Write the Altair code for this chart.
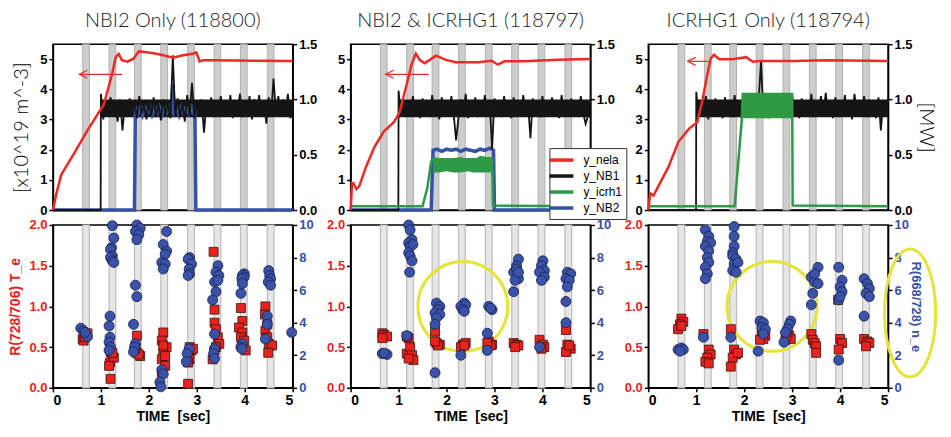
import altair as alt
import pandas as pd

# ---------------- data ----------------
SERIES = ["y_nela", "y_NB1", "y_icrh1", "y_NB2"]
SERIES_COLORS = ["#ee2a24", "#151515", "#2f9a45", "#3552a6"]
TITLES = ["NBI2 Only (118800)", "NBI2 & ICRHG1 (118797)", "ICRHG1 Only (118794)"]
TIME_TICKS = [0, 1, 2, 3, 4, 5]
DENS_TICKS = [0, 1, 2, 3, 4, 5]
MW_TICKS = [0.0, 0.5, 1.0, 1.5]
TE_TICKS = [0.0, 0.5, 1.0, 1.5, 2.0]
NE_TICKS = [0, 2, 4, 6, 8, 10]
BAND_CENTERS = [0.69, 1.24, 1.77, 2.32, 2.88, 3.43, 3.98, 4.54]
BAND_HALF = 0.07

# line-averaged density (time [s], 10^19 m^-3)
P1_NELA = [(0, 0), (0.07, 0.53), (0.17, 1.16), (0.45, 1.9), (0.72, 2.64), (0.93, 3.17), (1.06, 3.49),
           (1.24, 4.55), (1.31, 5.07), (1.37, 5.18), (1.44, 4.97), (1.55, 4.92), (1.68, 5.02), (1.79, 5.26),
           (1.96, 5.23), (2.16, 5.18), (2.51, 5.05), (2.71, 5.13), (2.92, 5.18), (2.99, 5.23), (3.06, 4.92),
           (3.13, 4.97), (3.33, 4.97), (5.0, 4.94)]
P2_NELA = [(0, 0), (0.03, 0.9), (0.06, 0.88), (0.12, 0.69), (0.18, 0.79), (0.32, 1.43), (0.49, 2.07),
           (0.69, 2.6), (0.9, 2.91), (1.02, 3.23), (1.17, 4.18), (1.27, 4.82), (1.36, 5.19), (1.44, 4.98),
           (1.54, 4.87), (1.65, 4.98), (1.78, 5.12), (1.99, 4.98), (2.19, 4.9), (2.67, 4.9), (2.94, 4.95),
           (3.07, 4.82), (3.21, 4.93), (3.62, 4.93), (4.3, 4.98), (5.0, 5.01)]
P3_NELA = [(0, 0), (0.04, 0.55), (0.11, 0.48), (0.21, 0.79), (0.42, 1.43), (0.63, 2.27), (0.85, 2.7),
           (1.02, 2.91), (1.13, 3.65), (1.23, 4.49), (1.30, 5.02), (1.37, 5.15), (1.48, 5.0), (1.76, 5.0),
           (2.04, 5.07), (2.18, 4.92), (2.32, 4.94), (3.03, 4.94), (3.73, 4.97), (5.0, 4.94)]

# NB1 power [MW], sampled every 0.05 s from 1.00 s to 5.00 s (zero before)
NB1_GRID = [round(1.0 + 0.05 * i, 2) for i in range(81)]
P1_NB1 = [1.05, 0.82, 0.98, 0.85, 1.02, 0.88, 0.96, 0.80, 1.00, 0.72,
          0.95, 0.84, 1.01, 0.86, 0.97, 0.83, 1.03, 0.87, 0.95, 0.82,
          0.99, 0.85, 1.02, 0.84, 0.96, 0.81, 1.00, 0.86, 0.97, 0.83,
          1.40, 0.85, 1.01, 0.84, 0.97, 0.80, 1.04, 0.86, 1.15, 0.83,
          0.98, 0.85, 1.00, 0.70, 0.96, 0.86, 1.02, 0.84, 0.99, 0.88,
          1.03, 0.85, 0.97, 0.87, 1.04, 0.83, 0.99, 0.88, 1.05, 0.84,
          0.98, 0.86, 1.03, 0.82, 1.00, 0.87, 1.04, 0.85, 0.99, 0.78,
          1.02, 0.86, 1.19, 0.88, 1.03, 0.85, 1.00, 0.87, 1.05, 0.83,
          0.98]
P2_NB1 = [1.08, 0.86, 1.00, 0.84, 0.97, 0.88, 1.03, 0.85, 0.99, 0.83,
          1.01, 0.87, 0.96, 0.84, 1.04, 0.86, 0.98, 0.82, 1.02, 0.88,
          0.97, 0.85, 1.03, 0.86, 0.63, 0.84, 1.00, 0.87, 1.05, 0.83,
          0.98, 0.86, 1.02, 0.84, 0.97, 0.88, 1.04, 0.85, 0.99, 0.55,
          1.01, 0.86, 0.97, 0.84, 1.03, 0.87, 0.99, 0.83, 1.02, 0.86,
          0.98, 0.85, 1.04, 0.87, 0.96, 0.65, 1.01, 0.86, 0.98, 0.84,
          1.03, 0.88, 0.97, 0.85, 1.02, 0.86, 0.99, 0.83, 1.04, 0.87,
          0.98, 0.85, 1.01, 0.86, 0.97, 0.84, 1.03, 0.88, 0.78, 0.85,
          1.00]
P3_NB1 = [1.07, 0.84, 0.99, 0.86, 1.03, 0.82, 0.97, 0.88, 1.01, 0.85,
          0.96, 0.83, 1.02, 0.87, 0.98, 0.84, 1.04, 0.86, 0.97, 0.82,
          1.01, 0.85, 0.99, 0.87, 1.03, 0.84, 0.98, 1.34, 0.86, 1.02,
          0.83, 0.97, 0.88, 1.03, 0.85, 0.99, 0.86, 1.02, 0.84, 0.98,
          1.04, 0.86, 0.97, 0.83, 1.01, 0.87, 0.99, 0.85, 1.05, 0.84,
          0.98, 0.88, 1.03, 0.85, 1.06, 0.86, 0.99, 0.83, 1.02, 0.87,
          0.97, 0.85, 1.04, 0.86, 0.99, 0.82, 1.05, 0.87, 0.98, 0.85,
          1.03, 0.84, 1.00, 0.86, 0.97, 0.83, 1.02, 0.72, 0.99, 0.85,
          1.01]
NB1_START = [(0, 0), (0.995, 0)]
# dense core of the NB1 trace (time, low, high) [MW]
NB1_CORE = [(1.0, 0.84, 1.0), (5.0, 0.84, 1.0)]

# NB2 power [MW]
P1_NB2 = [(0, 0), (1.70, 0), (1.72, 0.92), (1.77, 0.87), (1.82, 0.93), (1.87, 0.86), (1.92, 0.92),
          (1.97, 0.88), (2.02, 0.93), (2.07, 0.86), (2.12, 0.91), (2.17, 0.87), (2.22, 0.93), (2.27, 0.86),
          (2.32, 0.92), (2.37, 0.88), (2.42, 0.93), (2.47, 0.87), (2.50, 1.14), (2.53, 0.88), (2.58, 0.92),
          (2.63, 0.86), (2.68, 0.93), (2.73, 0.87), (2.78, 0.91), (2.83, 0.88), (2.88, 0.96), (2.93, 0.86),
          (2.96, 0.92), (2.98, 0), (5.0, 0)]
P1_NB2_CORE = [(1.72, 0.89, 0.94), (2.96, 0.89, 0.94)]
P2_NB2 = [(0, 0), (1.68, 0), (1.72, 0.54), (1.80, 0.55), (1.90, 0.53), (2.00, 0.55), (2.10, 0.54),
          (2.20, 0.55), (2.30, 0.53), (2.40, 0.55), (2.50, 0.54), (2.60, 0.53), (2.70, 0.55), (2.80, 0.54),
          (2.90, 0.56), (2.98, 0.54), (3.00, 0), (5.0, 0)]

# ICRH power [MW]
P2_ICRH = [(0, 0.035), (1.50, 0.035), (1.60, 0.2), (1.68, 0.44), (1.72, 0.46), (2.95, 0.46),
           (2.97, 0.04), (5.0, 0.035)]
P2_ICRH_BAND = [(1.72, 0.34, 0.48), (1.85, 0.34, 0.47), (2.0, 0.35, 0.45), (2.15, 0.34, 0.47),
                (2.3, 0.34, 0.48), (2.45, 0.35, 0.46), (2.55, 0.34, 0.45), (2.7, 0.34, 0.49),
                (2.85, 0.34, 0.48), (2.95, 0.34, 0.48)]
P3_ICRH = [(0, 0.035), (1.80, 0.035), (1.87, 0.4), (1.95, 0.82), (1.97, 1.05), (3.0, 1.05),
           (3.01, 0.04), (5.0, 0.035)]
P3_ICRH_BAND = [(1.97, 0.83, 1.05), (3.0, 0.83, 1.05)]

# arrows (tip time, tail time, density level)
ARROWS = [(0.55, 1.44, 4.5), (0.73, 1.63, 4.5), (0.82, 1.26, 4.93)]

# line-ratio data: R(728/706) ~ T_e (red squares), R(668/728) ~ n_e (blue circles)
P1_TE = [(0.62, 0.60), (0.69, 0.64), (0.72, 0.67), (0.64, 0.58), (0.67, 0.62),
         (1.20, 0.44), (1.24, 0.39), (1.19, 0.31), (1.27, 0.37), (1.17, 0.27), (1.20, 0.11), (1.24, 0.43),
         (1.75, 0.64), (1.72, 0.50), (1.75, 0.43), (1.82, 0.39), (1.79, 0.41), (1.72, 0.48),
         (2.30, 0.68), (2.27, 0.58), (2.37, 0.50), (2.30, 0.43), (2.27, 0.35), (2.34, 0.27), (2.27, 0.19),
         (2.30, 0.52), (2.34, 0.39),
         (2.85, 0.50), (2.89, 0.46), (2.82, 0.41), (2.85, 0.35), (2.82, 0.31), (2.92, 0.48), (2.82, 0.05),
         (3.35, 1.67), (3.37, 0.96), (3.37, 0.80), (3.40, 0.72), (3.44, 0.62), (3.47, 0.54), (3.40, 0.50),
         (3.33, 0.35), (3.37, 0.46),
         (3.92, 0.98), (3.95, 0.82), (3.88, 0.74), (3.95, 0.68), (3.92, 0.62), (3.99, 0.58), (3.94, 0.50),
         (4.02, 0.46),
         (4.43, 1.0), (4.42, 0.90), (4.47, 0.78), (4.43, 0.70), (4.47, 0.62), (4.50, 0.54), (4.57, 0.52),
         (4.49, 0.43)]
P1_NE = [(0.58, 3.66), (0.64, 3.5), (0.72, 3.15), (0.67, 3.4),
         (1.24, 9.96), (1.27, 9.2), (1.22, 8.6), (1.20, 8.5), (1.24, 8.1), (1.20, 8.0), (1.24, 7.8),
         (1.27, 7.7), (1.19, 4.4), (1.17, 3.8), (1.19, 3.1), (1.17, 2.8), (1.20, 2.5), (1.17, 2.3),
         (1.75, 10.0), (1.79, 9.7), (1.82, 9.8), (1.72, 9.6), (1.79, 9.4), (1.75, 9.1), (1.72, 6.3),
         (1.75, 5.6), (1.68, 3.9), (1.72, 2.7), (1.70, 2.5), (1.68, 2.2),
         (2.37, 9.6), (2.30, 8.8), (2.37, 8.4), (2.34, 8.2), (2.27, 7.7), (2.34, 7.6), (2.30, 7.3),
         (2.27, 1.1), (2.30, 0.85), (2.23, 0.35), (2.25, 0.06),
         (2.85, 8.0), (2.82, 7.9), (2.89, 7.6), (2.84, 7.3), (2.85, 7.0), (2.82, 6.9), (2.84, 2.4),
         (2.80, 2.1), (2.78, 1.6),
         (3.44, 7.5), (3.40, 7.1), (3.46, 6.9), (3.37, 6.5), (3.40, 5.9), (3.44, 6.6), (3.33, 5.4),
         (3.37, 3.3), (3.37, 2.4), (3.35, 2.1), (3.37, 1.8),
         (3.99, 7.0), (3.95, 6.9), (3.99, 6.8), (3.94, 6.7), (3.95, 6.4), (3.92, 5.8), (3.95, 2.7),
         (3.92, 2.5), (3.94, 2.4),
         (4.50, 7.2), (4.52, 6.9), (4.54, 6.7), (4.49, 6.5), (4.54, 6.3), (4.47, 4.4), (4.47, 3.9),
         (4.43, 3.0),
         (4.98, 3.4)]
P2_TE = [(0.66, 0.67), (0.70, 0.65), (0.76, 0.63), (0.66, 0.61),
         (1.21, 0.61), (1.17, 0.42), (1.24, 0.50), (1.28, 0.40), (1.31, 0.34), (1.21, 0.36), (1.17, 0.63),
         (1.76, 0.69), (1.79, 0.55), (1.86, 0.53), (1.82, 0.52), (1.76, 0.57),
         (2.34, 0.53), (2.40, 0.55), (2.30, 0.50), (2.37, 0.52),
         (2.88, 0.57), (2.95, 0.53), (2.92, 0.52), (2.85, 0.55),
         (3.40, 0.55), (3.46, 0.53), (3.50, 0.52), (3.43, 0.50),
         (3.94, 0.59), (4.01, 0.53), (4.04, 0.50), (3.98, 0.48),
         (4.49, 0.71), (4.52, 0.53), (4.59, 0.48), (4.49, 0.44), (4.56, 0.52)]
P2_NE = [(0.66, 2.1), (0.76, 2.05), (0.70, 2.13),
         (1.21, 10.0), (1.24, 9.7), (1.28, 9.1), (1.21, 8.9), (1.24, 8.7), (1.30, 8.8), (1.21, 8.3),
         (1.24, 8.1), (1.28, 7.8), (1.23, 7.1), (1.17, 3.2),
         (1.79, 5.2), (1.86, 5.0), (1.82, 4.8), (1.76, 4.6), (1.86, 4.5), (1.79, 4.3), (1.76, 3.9),
         (1.76, 0.93),
         (2.37, 5.2), (2.30, 5.0), (2.40, 5.1), (2.34, 4.8), (2.37, 4.7), (2.30, 2.0),
         (2.88, 5.0), (2.95, 4.8), (2.92, 4.9), (2.85, 3.35), (2.85, 2.3),
         (3.50, 7.9), (3.40, 7.1), (3.46, 7.5), (3.50, 6.7), (3.43, 6.6), (3.40, 5.9), (3.46, 7.3),
         (3.50, 7.1),
         (4.01, 7.8), (3.98, 7.5), (4.04, 7.2), (3.94, 7.1), (4.04, 6.8), (3.98, 6.6), (3.94, 2.5),
         (4.52, 7.1), (4.59, 7.0), (4.49, 6.7), (4.56, 6.6), (4.52, 6.2), (4.49, 5.3), (4.49, 4.0)]
P3_TE = [(0.69, 0.85), (0.73, 0.81), (0.66, 0.78), (0.62, 0.72), (0.69, 0.76),
         (1.15, 0.66), (1.26, 0.47), (1.30, 0.41), (1.23, 0.37), (1.19, 0.32), (1.26, 0.30),
         (1.72, 0.72), (1.79, 0.47), (1.83, 0.41), (1.76, 0.37), (1.72, 0.26), (1.87, 0.43),
         (2.37, 0.66), (2.44, 0.64), (2.40, 0.60), (2.33, 0.59),
         (2.94, 0.64), (2.97, 0.60), (2.90, 0.68), (2.86, 0.59),
         (3.40, 0.66), (3.43, 0.59), (3.47, 0.55), (3.50, 0.51), (3.50, 0.43),
         (4.00, 0.60), (4.04, 0.55), (3.97, 0.47), (3.96, 1.08),
         (4.50, 0.60), (4.57, 0.57), (4.61, 0.55), (4.54, 0.51)]
P3_NE = [(0.62, 2.35), (0.69, 2.45), (0.73, 2.35), (0.66, 2.25),
         (1.19, 9.7), (1.26, 9.3), (1.23, 9.0), (1.30, 8.9), (1.19, 8.7), (1.26, 8.4), (1.23, 8.0),
         (1.26, 7.7), (1.19, 7.4), (1.23, 7.0), (1.19, 6.7), (1.15, 3.1),
         (1.79, 9.9), (1.79, 9.3), (1.79, 8.7), (1.76, 8.3), (1.76, 8.1), (1.83, 7.9), (1.79, 7.6),
         (1.87, 7.7), (1.76, 7.2), (1.83, 7.1), (1.72, 3.1),
         (2.33, 4.1), (2.40, 4.0), (2.37, 3.7), (2.44, 3.6), (2.40, 3.3), (2.29, 2.25),
         (2.97, 4.1), (2.94, 3.9), (2.90, 3.6), (2.86, 3.4), (2.83, 2.8),
         (3.54, 7.4), (3.40, 6.8), (3.47, 6.5), (3.54, 6.4), (3.43, 5.8), (3.40, 5.1), (3.47, 7.0),
         (3.97, 7.4), (4.04, 6.6), (4.00, 6.2), (4.04, 5.9), (3.97, 5.4), (4.00, 5.6), (3.97, 1.7),
         (4.50, 6.7), (4.57, 6.4), (4.61, 6.1), (4.54, 5.8), (4.61, 5.6), (4.50, 4.4)]

# yellow highlight marks (time, ratio)
P2_HILITE = [(2.34, 1.0)]
P3_HILITE = [(2.58, 1.0)]
P3_LABEL_HILITE = [(5.46, 0.92)]

# ---------------- styling ----------------
COLOR = dict(zip(SERIES, SERIES_COLORS))
RED_PT = "#e8231d"
BLUE_PT = "#3a52a8"
YELLOW = "#e6e33a"
LABEL_FONT = "Liberation Sans"
THIN_FONT = "Lato"
ELLIPSE = ("M0,-1 C0.2209,-1 0.40,-0.5523 0.40,0 C0.40,0.5523 0.2209,1 0,1 "
           "C-0.2209,1 -0.40,0.5523 -0.40,0 C-0.40,-0.5523 -0.2209,-1 0,-1 Z")
ARROWHEAD = "M2,-1 L0,0 L2,1"
LEGEND_SYMBOL = "M-2,0 L2,0"
W = 240
H_TOP = 166
H_BOT = 163

XS = alt.Scale(domain=[0, 5], nice=False, zero=False)
DENS = alt.Scale(domain=[0, 5.5], nice=False, zero=False)
MW = alt.Scale(domain=[0, 1.5], nice=False, zero=False)
TE = alt.Scale(domain=[0, 2], nice=False, zero=False)
NE = alt.Scale(domain=[0, 10], nice=False, zero=False)
CSCALE = alt.Scale(domain=SERIES, range=SERIES_COLORS)

LEGEND = alt.Legend(title=None, orient="none", legendX=497, legendY=104,
                    symbolType=LEGEND_SYMBOL, symbolSize=144, symbolStrokeWidth=3.5,
                    labelFont=LABEL_FONT, labelFontSize=12, labelColor="black",
                    strokeColor="#333333", fillColor="white", padding=4, rowPadding=1,
                    labelOffset=14)

BANDS_DF = pd.DataFrame({"t0": [c - BAND_HALF for c in BAND_CENTERS],
                         "t1": [c + BAND_HALF for c in BAND_CENTERS]})


def xtop(field):
    return alt.X(field, type="quantitative", scale=XS,
                 axis=alt.Axis(values=TIME_TICKS, labels=False, ticks=False, title=None))


def xbot(field):
    return alt.X(field, type="quantitative", scale=XS,
                 axis=alt.Axis(values=TIME_TICKS, format="d", title="TIME\u00a0\u00a0[sec]",
                               labelFontSize=14, titleFont=LABEL_FONT, titleFontSize=14,
                               titleFontWeight="bold", titlePadding=2, labelPadding=2))


def pairs(p, cols=("t", "v")):
    return pd.DataFrame(p, columns=list(cols))


def series_line(df, name, width, yscale, axis, legend):
    enc = dict(x=xtop("t:Q"), y=alt.Y("v:Q", scale=yscale, axis=axis))
    if legend:
        df = df.assign(s=name)
        enc["color"] = alt.Color("s:N", scale=CSCALE, legend=LEGEND)
        mark = alt.Chart(df).mark_line(strokeWidth=width)
    else:
        mark = alt.Chart(df).mark_line(strokeWidth=width, color=COLOR[name])
    return mark.encode(**enc)


def band(df, name):
    return alt.Chart(df).mark_area(color=COLOR[name], opacity=1).encode(
        x=xtop("t:Q"), y=alt.Y("lo:Q", scale=MW, axis=None), y2="hi:Q")


def top_panel(k, nela, nb1, nb2, nb2_core, icrh, icrh_band, legend):
    layers = []
    layers.append(alt.Chart(BANDS_DF).mark_rect(fill="#cdcdcd", stroke="#b0b0b0", strokeWidth=1).encode(
        x=xtop("t0:Q"), x2="t1:Q",
        y=alt.Y(datum=0, scale=DENS, axis=None), y2=alt.datum(5.5)))
    right_axis = alt.Axis(orient="right", values=MW_TICKS, format=".1f", title="[MW]" if k == 2 else None,
                          titleFont=THIN_FONT, titleFontWeight=300, titleFontSize=20, titlePadding=3,
                          titleColor="black")
    layers.append(band(pairs(NB1_CORE, ("t", "lo", "hi")), "y_NB1"))
    if nb2 is not None:
        layers.append(series_line(pairs(nb2), "y_NB2", 3.5, MW, None, legend))
        if nb2_core is not None:
            layers.append(band(pairs(nb2_core, ("t", "lo", "hi")), "y_NB2"))
    nb1_df = pd.concat([pairs(NB1_START), pd.DataFrame({"t": NB1_GRID, "v": nb1})], ignore_index=True)
    layers.append(series_line(nb1_df, "y_NB1", 1.8, MW, right_axis, legend))
    if icrh is not None:
        layers.append(series_line(pairs(icrh), "y_icrh1", 2.5, MW, None, legend))
        layers.append(band(pairs(icrh_band, ("t", "lo", "hi")), "y_icrh1"))
    left_axis = alt.Axis(orient="left", values=DENS_TICKS, format="d",
                         title="[x10^19 m^-3]" if k == 0 else None,
                         titleFont=THIN_FONT, titleFontWeight=300, titleFontSize=20, titlePadding=8,
                         titleColor="black")
    layers.append(series_line(pairs(nela), "y_nela", 2.5, DENS, left_axis, legend))
    tip, tail, lvl = ARROWS[k]
    arrow_df = pd.DataFrame({"t": [tip, tail], "v": [lvl, lvl]})
    layers.append(alt.Chart(arrow_df).mark_line(color=COLOR["y_nela"], strokeWidth=1.2).encode(
        x=xtop("t:Q"), y=alt.Y("v:Q", scale=DENS, axis=None)))
    layers.append(alt.Chart(arrow_df.iloc[[0]]).mark_point(
        shape=ARROWHEAD, size=64, filled=False, color=COLOR["y_nela"], strokeWidth=1.2, opacity=1).encode(
        x=xtop("t:Q"), y=alt.Y("v:Q", scale=DENS, axis=None)))
    return alt.layer(*layers).resolve_scale(y="independent").properties(
        width=W, height=H_TOP,
        title=alt.TitleParams(TITLES[k], font=THIN_FONT, fontWeight=300, fontSize=20, offset=7,
                              color="#222222"))


def bottom_panel(k, te, ne, hilite, label_hilite):
    layers = []
    layers.append(alt.Chart(BANDS_DF).mark_rect(fill="#e6e6e6", stroke="#bcbcbc", strokeWidth=1.2).encode(
        x=xbot("t0:Q"), x2="t1:Q",
        y=alt.Y(datum=0, scale=TE, axis=None), y2=alt.datum(2)))
    if hilite is not None:
        layers.append(alt.Chart(pairs(hilite)).mark_point(
            shape="circle", size=8100, filled=False, color=YELLOW, strokeWidth=3, opacity=1).encode(
            x=xbot("t:Q"), y=alt.Y("v:Q", scale=TE, axis=None)))
    left_axis = alt.Axis(orient="left", values=TE_TICKS, format=".1f", labelColor="#ee2222",
                         title="R(728/706) T_e" if k == 0 else None, titleColor="#ee2222",
                         titleFont=LABEL_FONT, titleFontSize=14, titleFontWeight="bold", titlePadding=6)
    right_axis = alt.Axis(orient="right", values=NE_TICKS, format="d", labelColor="#3a4fa8",
                          title="R(668/728) n_e" if k == 2 else None, titleColor="#3a4fa8",
                          titleFont=LABEL_FONT, titleFontSize=13, titleFontWeight="bold", titlePadding=0)
    layers.append(alt.Chart(pairs(te)).mark_square(
        size=80, color=RED_PT, stroke="#3a1010", strokeWidth=0.8, opacity=1).encode(
        x=xbot("t:Q"), y=alt.Y("v:Q", scale=TE, axis=left_axis)))
    layers.append(alt.Chart(pairs(ne)).mark_circle(
        size=100, color=BLUE_PT, stroke="#17204f", strokeWidth=0.8, opacity=1).encode(
        x=xbot("t:Q"), y=alt.Y("v:Q", scale=NE, axis=right_axis)))
    if label_hilite is not None:
        layers.append(alt.Chart(pairs(label_hilite)).mark_point(
            shape=ELLIPSE, size=16384, filled=False, color=YELLOW, strokeWidth=3, opacity=1).encode(
            x=xbot("t:Q"), y=alt.Y("v:Q", scale=TE, axis=None)))
    return alt.layer(*layers).resolve_scale(y="independent").properties(width=W, height=H_BOT)


charts = [
    top_panel(0, P1_NELA, P1_NB1, P1_NB2, P1_NB2_CORE, None, None, False),
    top_panel(1, P2_NELA, P2_NB1, P2_NB2, None, P2_ICRH, P2_ICRH_BAND, True),
    top_panel(2, P3_NELA, P3_NB1, None, None, P3_ICRH, P3_ICRH_BAND, False),
    bottom_panel(0, P1_TE, P1_NE, None, None),
    bottom_panel(1, P2_TE, P2_NE, P2_HILITE, None),
    bottom_panel(2, P3_TE, P3_NE, P3_HILITE, P3_LABEL_HILITE),
]

chart = alt.concat(*charts, columns=3, spacing={"row": 15, "column": 58}, align="each",
                   bounds="flush").properties(
    padding={"left": 0, "top": 2, "right": 0, "bottom": 0}
).configure_view(stroke="black", strokeWidth=1.5).configure_axis(
    labelFont=LABEL_FONT, labelFontSize=13, labelFontWeight="bold", labelColor="black",
    tickColor="black", tickWidth=1.5, tickSize=4, domainColor="black", domainWidth=1.5,
    grid=False, labelPadding=2
)

chart.save("out.html", embed_options={"renderer": "svg", "actions": False})
